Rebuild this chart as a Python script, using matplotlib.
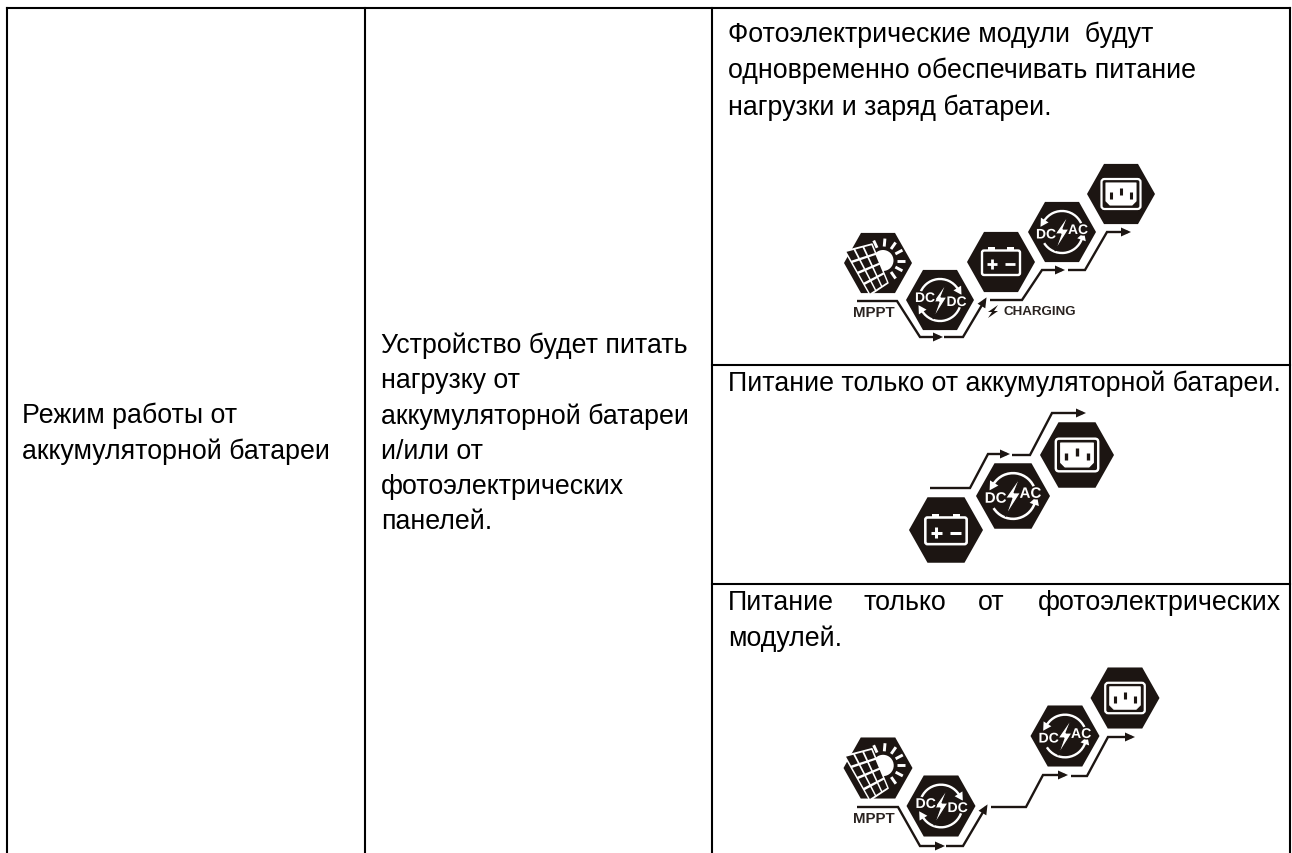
"""Table of battery operating modes with hexagon flow icons."""

import matplotlib

matplotlib.use("Agg")
import matplotlib.patheffects as pe
import matplotlib.pyplot as plt
import numpy as np
from matplotlib.patches import Arc, Circle, FancyBboxPatch, Polygon

plt.rcParams["font.family"] = ["Liberation Sans", "DejaVu Sans"]

W, H = 1292, 854
INK = "#1c1512"

# table rules, pixels
COL_X = [7, 365, 712, 1290]
TOP_Y = 9
ROW_Y = [366, 585]

COL1_LINES = ["Режим работы от", "аккумуляторной батареи"]
COL2_LINES = [
    "Устройство будет питать",
    "нагрузку от",
    "аккумуляторной батареи",
    "и/или от",
    "фотоэлектрических",
    "панелей.",
]
ROW1_LINES = [
    "Фотоэлектрические модули  будут",
    "одновременно обеспечивать питание",
    "нагрузки и заряд батареи.",
]
ROW2_LINE = "Питание только от аккумуляторной батареи."
ROW3_WORDS = ["Питание", "только", "от", "фотоэлектрических"]
ROW3_WORD_X = [728, 864, 978, 1038]
ROW3_LINE2 = "модулей."

# icon centres, pixels
ICONS_ROW1 = [
    ("solar", 878, 264, 34),
    ("dcdc", 940, 301, 34),
    ("battery", 1001, 263, 34),
    ("dcac", 1062, 233, 34),
    ("plug", 1121, 195, 34),
]
ICONS_ROW2 = [
    ("battery", 946, 531, 37),
    ("dcac", 1013, 497, 37),
    ("plug", 1077, 456, 37),
]
ICONS_ROW3 = [
    ("solar", 878, 769, 34.5),
    ("dcdc", 941, 807, 34.5),
    ("dcac", 1065, 737, 34.5),
    ("plug", 1125, 699, 34.5),
]

# arrow routes, pixels
ROUTES_ROW1 = [
    [(857, 302), (897, 302), (920, 338), (940, 338)],
    [(944, 338), (963, 338), (985, 301)],
    [(990, 301), (1022, 301), (1042, 271), (1062, 271)],
    [(1068, 271), (1085, 271), (1107, 233), (1128, 233)],
]
ROUTES_ROW2 = [
    [(930, 489), (970, 489), (988, 455), (1007, 455)],
    [(1012, 456), (1030, 456), (1052, 414), (1083, 414)],
]
ROUTES_ROW3 = [
    [(857, 808), (898, 808), (920, 847), (942, 847)],
    [(946, 847), (963, 847), (986, 808)],
    [(991, 808), (1026, 808), (1043, 776), (1065, 776)],
    [(1071, 777), (1087, 777), (1108, 738), (1132, 738)],
]


def hexagon(ax, cx, cy, r):
    hh = r * 0.885
    pts = [(-r, 0), (-r * 0.5, -hh), (r * 0.5, -hh), (r, 0), (r * 0.5, hh), (-r * 0.5, hh)]
    ax.add_patch(Polygon([(cx + x, cy + y) for x, y in pts], color=INK, lw=0))


def arc_arrow(ax, cx, cy, rad, a0, a1, tip, clockwise, s):
    ax.add_patch(Arc((cx, cy), 2 * rad, 2 * rad, theta1=a0, theta2=a1, color="white", lw=1.7 * s))
    a = np.deg2rad(tip)
    x, y = cx + rad * np.cos(a), cy + rad * np.sin(a)
    sign = 1 if clockwise else -1
    tx, ty = -np.sin(a) * sign, np.cos(a) * sign
    nx, ny = np.cos(a), np.sin(a)
    ax.add_patch(Polygon([(x + tx * 7 * s, y + ty * 7 * s),
                          (x - tx * 1 * s + nx * 4.5 * s, y - ty * 1 * s + ny * 4.5 * s),
                          (x - tx * 1 * s - nx * 4.5 * s, y - ty * 1 * s - ny * 4.5 * s)],
                         color="white", lw=0))


def converter(ax, cx, cy, r, right):
    hexagon(ax, cx, cy, r)
    s = r / 34
    rad = 21 * s
    if right == "AC":
        arc_arrow(ax, cx, cy, rad, 212, 344, 212, False, s)
        arc_arrow(ax, cx, cy, rad, 19, 148, 19, False, s)
    else:
        arc_arrow(ax, cx, cy, rad, 196, 328, 328, True, s)
        arc_arrow(ax, cx, cy, rad, 16, 148, 148, True, s)
    bolt = [(7, -18), (-7, 2), (-1, 2), (-7, 19), (7, -3), (1, -3)]
    ax.add_patch(Polygon([(cx + x * s, cy + y * s) for x, y in bolt],
                         facecolor="white", edgecolor=INK, lw=0.9))
    if right == "AC":
        lx, ly, rx, ry = -16, 2.5, 16, -2
    else:
        lx, ly, rx, ry = -15, -2, 16.5, 2
    halo = [pe.withStroke(linewidth=2.2, foreground=INK)]
    for dx, dy, label in [(lx, ly, "DC"), (rx, ry, right)]:
        ax.text(cx + dx * s, cy + dy * s, label, color="white", fontsize=10 * s,
                fontweight="bold", ha="center", va="center", path_effects=halo)


def battery(ax, cx, cy, r):
    hexagon(ax, cx, cy, r)
    s = r / 34
    ax.add_patch(FancyBboxPatch((cx - 19 * s, cy - 11.5 * s), 38 * s, 24.5 * s,
                                boxstyle=f"round,pad=0,rounding_size={2 * s}",
                                fc=INK, ec="white", lw=1.7 * s))
    for dx in (-13, 6):
        ax.add_patch(Polygon([(cx + dx * s, cy - 15 * s), (cx + (dx + 7) * s, cy - 15 * s),
                              (cx + (dx + 7) * s, cy - 11 * s), (cx + dx * s, cy - 11 * s)],
                             color="white", lw=0))
    line = dict(color="white", lw=2 * s, solid_capstyle="butt")
    ax.plot([cx - 14 * s, cx - 4 * s], [cy + 2.3 * s, cy + 2.3 * s], **line)
    ax.plot([cx - 9 * s, cx - 9 * s], [cy - 2.7 * s, cy + 7.3 * s], **line)
    ax.plot([cx + 4 * s, cx + 14 * s], [cy + 2.3 * s, cy + 2.3 * s], **line)


def plug(ax, cx, cy, r):
    hexagon(ax, cx, cy, r)
    s = r / 34
    ax.add_patch(FancyBboxPatch((cx - 19.5 * s, cy - 15 * s), 39 * s, 30 * s,
                                boxstyle=f"round,pad=0,rounding_size={3 * s}",
                                fc=INK, ec="white", lw=1.6 * s))
    inner = [(-15, -11), (15, -11), (15, 7), (11, 11), (-11, 11), (-15, 7)]
    ax.add_patch(Polygon([(cx + x * s, cy + y * s) for x, y in inner], fc="white", ec="white",
                         lw=0.8, joinstyle="round"))
    for dx, dy0, dy1 in [(-10, -2, 5), (0, -6, 1), (10, -2, 5)]:
        ax.plot([cx + dx * s] * 2, [cy + dy0 * s, cy + dy1 * s], color=INK, lw=2.2 * s,
                solid_capstyle="butt")


def solar(ax, cx, cy, r, label_y):
    hexagon(ax, cx, cy, r)
    s = r / 34
    sx, sy = cx + 5 * s, cy - 2.5 * s
    ax.add_patch(Circle((sx, sy), 10.5 * s, color="white", lw=0))
    for deg in (-115, -85, -55, -28, 0, 28, 55):
        a = np.deg2rad(deg)
        ax.plot([sx + 14 * s * np.cos(a), sx + 22 * s * np.cos(a)],
                [sy + 14 * s * np.sin(a), sy + 22 * s * np.sin(a)],
                color="white", lw=2.1, solid_capstyle="butt")
    # panel corners: top-left, top-right, bottom-right, bottom-left
    c = np.array([[-33, -12], [-6, -19], [10, 20], [-8, 32]], dtype=float) * s + [cx, cy]
    ax.add_patch(Polygon(c, fc="white", ec="white", lw=1, joinstyle="round"))

    def at(u, v):
        return (1 - v) * ((1 - u) * c[0] + u * c[1]) + v * ((1 - u) * c[3] + u * c[2])

    for i in range(3):
        for j in range(4):
            u0, u1 = (i + 0.1) / 3, (i + 0.9) / 3
            v0, v1 = (j + 0.1) / 4, (j + 0.9) / 4
            ax.add_patch(Polygon([at(u0, v0), at(u1, v0), at(u1, v1), at(u0, v1)], color=INK, lw=0))
    ax.text(873.5, label_y, "MPPT", color="#2a2320", fontsize=10.8, fontweight="bold",
            ha="center", va="center")


def route(ax, pts):
    xs, ys = zip(*pts)
    ax.plot(xs, ys, color=INK, lw=1.7, solid_joinstyle="miter", solid_capstyle="butt")
    (x0, y0), (x1, y1) = pts[-2], pts[-1]
    a = np.arctan2(y1 - y0, x1 - x0)
    ux, uy = np.cos(a), np.sin(a)
    ax.add_patch(Polygon([(x1 + ux * 3, y1 + uy * 3),
                          (x1 - ux * 7 - uy * 4.5, y1 - uy * 7 + ux * 4.5),
                          (x1 - ux * 7 + uy * 4.5, y1 - uy * 7 - ux * 4.5)],
                         color=INK, lw=0))


def draw_icons(ax, icons, routes, mppt_y=None):
    for pts in routes:
        route(ax, pts)
    for kind, cx, cy, r in icons:
        if kind == "solar":
            solar(ax, cx, cy, r, mppt_y)
        elif kind == "dcdc":
            converter(ax, cx, cy, r, "DC")
        elif kind == "dcac":
            converter(ax, cx, cy, r, "AC")
        elif kind == "battery":
            battery(ax, cx, cy, r)
        else:
            plug(ax, cx, cy, r)


fig = plt.figure(figsize=(W / 100, H / 100), dpi=100, facecolor="white")
ax = fig.add_axes([0, 0, 1, 1])
ax.set_xlim(0, W)
ax.set_ylim(H, 0)
ax.axis("off")

rule = dict(color="black", lw=1.5, solid_capstyle="projecting")
ax.plot([COL_X[0], COL_X[-1]], [TOP_Y, TOP_Y], **rule)
for x in COL_X:
    ax.plot([x, x], [TOP_Y, H + 2], **rule)
for y in ROW_Y:
    ax.plot([COL_X[2], COL_X[3]], [y, y], **rule)

FS = 19.3
tx = dict(fontsize=FS, color="black", va="baseline", ha="left")
for i, line in enumerate(COL1_LINES):
    ax.text(22, 423 + i * 36, line, **tx)
for i, line in enumerate(COL2_LINES):
    ax.text(381, 353 + i * 35.3, line, **tx)
for i, line in enumerate(ROW1_LINES):
    ax.text(728, 42 + i * 36.5, line, **tx)
ax.text(728, 391, ROW2_LINE, **tx)
for word, x in zip(ROW3_WORDS, ROW3_WORD_X):
    ax.text(x, 610, word, **tx)
ax.text(728, 646, ROW3_LINE2, **tx)

draw_icons(ax, ICONS_ROW1, ROUTES_ROW1, mppt_y=313)
draw_icons(ax, ICONS_ROW2, ROUTES_ROW2)
draw_icons(ax, ICONS_ROW3, ROUTES_ROW3, mppt_y=819)

# charging label with its small bolt
ax.text(1003, 312, "CHARGING", color="#2a2320", fontsize=9.6, fontweight="bold", ha="left", va="center")
ax.add_patch(Polygon([(998, 306), (988, 313), (992, 313), (988, 319), (998, 312), (994, 312)],
                     color=INK, lw=0))

fig.savefig("out.png", dpi=100, facecolor="white")
plt.close(fig)
